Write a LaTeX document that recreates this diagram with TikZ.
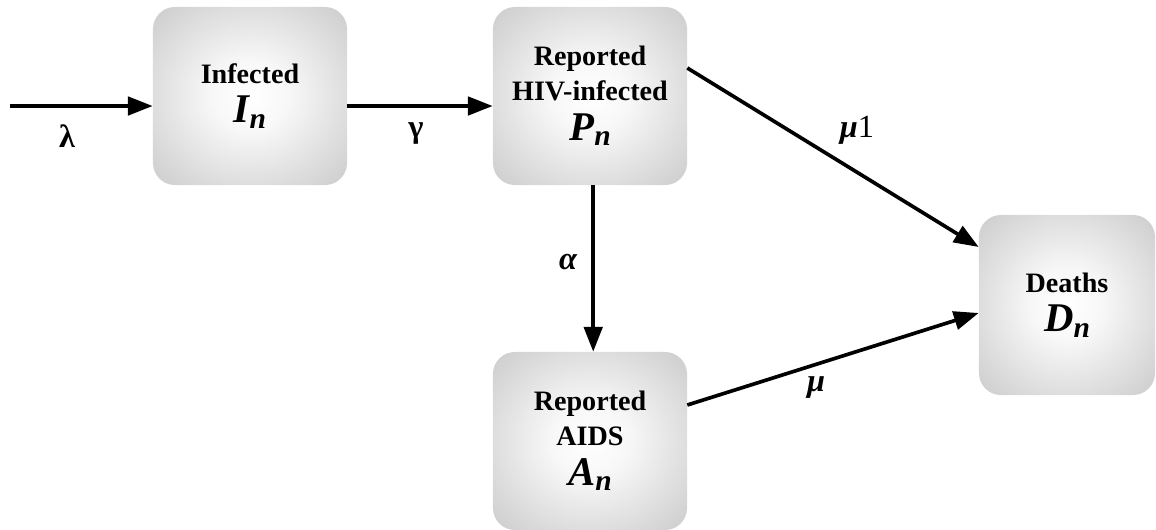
\documentclass[tikz,border=0pt]{standalone}
\usepackage{fontspec}
\setmainfont{Liberation Serif}
\usetikzlibrary{arrows.meta}

\pgfdeclareradialshading{boxglow}{\pgfpoint{0bp}{0bp}}{color(0bp)=(white); color(10bp)=(white!97!black); color(50bp)=(black!30)}

% variable with subscript, as in the boxes
\newcommand{\var}[2]{{\fontsize{29}{30}\selectfont\bfseries\itshape #1\raisebox{-0.3ex}{\fontsize{21}{22}\selectfont #2}}}

\begin{document}
\begin{tikzpicture}[x=0.025cm, y=-0.025cm,
	box/.style = {rounded corners=0.55cm, shading=boxglow, align=center,
		minimum width=4.85cm, minimum height=4.45cm, inner sep=0pt,
		font=\fontsize{20}{25}\selectfont\bfseries},
	flow/.style = {line width=2.6pt, -{Triangle[length=0.62cm, width=0.46cm]}},
	rate/.style = {font=\fontsize{23}{25}\selectfont\bfseries}]
	
	\useasboundingbox (0,0) rectangle (1156,529);
	
	\node[box] (inf) at (250,96) {Infected\\[3pt] \var{I}{n}};
	\node[box] (hiv) at (590,96) {Reported\\ HIV-infected\\[3pt] \var{P}{n}};
	\node[box] (aids) at (590,441) {Reported\\ AIDS\\[3pt] \var{A}{n}};
	\node[box, minimum width=4.4cm, minimum height=4.5cm] (dead) at (1067,305) {Deaths\\[3pt] \var{D}{n}};
	
	\coordinate (src) at (10,106);
	
	\draw[flow] (src) -- ([yshift=-0.25cm]inf.west);
	\draw[flow] ([yshift=-0.25cm]inf.east) -- ([yshift=-0.25cm]hiv.west);
	\draw[flow] ([yshift=0.7cm]hiv.east) -- ([yshift=1.45cm]dead.west);
	\draw[flow] ([xshift=0.08cm]hiv.south) -- ([xshift=0.08cm]aids.north);
	\draw[flow] ([yshift=0.9cm]aids.east) -- ([yshift=-0.2cm]dead.west);
	
	\node[rate] (lam) at (67,136) {λ};
	\node[rate] (gam) at (416,134) {γ};
	\node[rate] (alp) at (568,262) {\itshape α};
	\node[rate] (mu1) at (857,130) {\itshape μ\upshape\mdseries 1};
	\node[rate] (mu) at (816,388) {\itshape μ};
\end{tikzpicture}
\end{document}
